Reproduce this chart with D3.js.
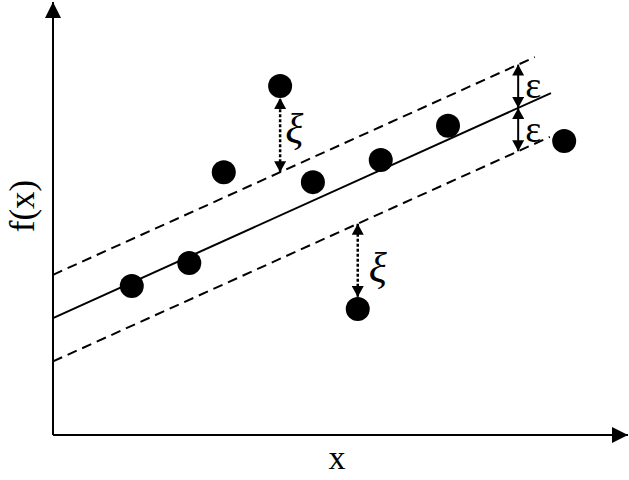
<!DOCTYPE html>
<html>
<head>
<meta charset="utf-8">
<script src="https://cdn.jsdelivr.net/npm/d3@7"></script>
<style>
  html, body { margin: 0; padding: 0; background: #fff; }
  svg { display: block; }
  text { font-family: "Liberation Serif", "Times New Roman", serif; fill: #000; }
</style>
</head>
<body>
<div id="chart"></div>
<script>
// sample points (data units)
const pointX = [1.37, 2.37, 2.97, 3.95, 4.52, 5.70, 6.87, 5.30, 8.89];
const pointY = [3.44, 3.97, 6.07, 8.06, 5.84, 6.35, 7.14, 2.91, 6.79];

// regression line f(x) = intercept + slope * x, tube of half width epsilon
const intercept = 2.7;
const slope = 0.6;
const epsilon = 1.0;
const lineEnds = { center: 8.66, upper: 8.38, lower: 8.64 };

// where the epsilon marker sits and which points get a slack arrow
const epsilonAt = 8.09;
const slackPoints = [3, 7];

const svgWidth = 629;
const svgHeight = 480;
const radius = 12;

const svg = d3.select('#chart')
    .append('svg')
    .attr('width', svgWidth)
    .attr('height', svgHeight);

const x = d3.scaleLinear().domain([0, 10]).range([53, 628]);
const y = d3.scaleLinear().domain([0, 10]).range([435, 2]);

const f = v => intercept + slope * v;

//arrow heads
const defs = svg.append('defs');
defs.append('marker')
    .attr('id', 'big-arrow')
    .attr('markerUnits', 'userSpaceOnUse')
    .attr('markerWidth', 18).attr('markerHeight', 18)
    .attr('refX', 16).attr('refY', 8)
    .attr('orient', 'auto')
    .append('path')
    .attr('d', 'M0,0 L16,8 L0,16 Z')
    .style('fill', '#000');

defs.append('marker')
    .attr('id', 'small-arrow')
    .attr('markerUnits', 'userSpaceOnUse')
    .attr('markerWidth', 12).attr('markerHeight', 12)
    .attr('refX', 11).attr('refY', 6)
    .attr('orient', 'auto-start-reverse')
    .append('path')
    .attr('d', 'M0,0 L11,6 L0,12 Z')
    .style('fill', '#000');

//axes
svg.append('line')
    .attr('x1', x(0)).attr('y1', y(0))
    .attr('x2', x(10)).attr('y2', y(0))
    .style('stroke', '#000').style('stroke-width', 2)
    .attr('marker-end', 'url(#big-arrow)');

svg.append('line')
    .attr('x1', x(0)).attr('y1', y(0))
    .attr('x2', x(0)).attr('y2', y(10))
    .style('stroke', '#000').style('stroke-width', 2)
    .attr('marker-end', 'url(#big-arrow)');

svg.append('text')
    .attr('x', 337).attr('y', 469)
    .style('font-size', '34px')
    .style('text-anchor', 'middle')
    .text('x');

svg.append('text')
    .attr('transform', 'translate(34, 206) rotate(-90)')
    .style('font-size', '35px')
    .style('text-anchor', 'middle')
    .text('f(x)');

//regression line and epsilon tube
const tube = [
    { offset: 0, end: lineEnds.center, dash: null },
    { offset: epsilon, end: lineEnds.upper, dash: '10,6' },
    { offset: -epsilon, end: lineEnds.lower, dash: '10,6' }
];

svg.selectAll('.tube')
    .data(tube).enter()
    .append('line')
    .attr('class', 'tube')
    .attr('x1', x(0))
    .attr('y1', d => y(f(0) + d.offset))
    .attr('x2', d => x(d.end))
    .attr('y2', d => y(f(d.end) + d.offset))
    .style('stroke', '#000')
    .style('stroke-width', 2)
    .style('stroke-dasharray', d => d.dash);

//points
svg.selectAll('.point')
    .data(pointX.map((v, i) => ({ x: v, y: pointY[i] }))).enter()
    .append('circle')
    .attr('class', 'point')
    .attr('cx', d => x(d.x))
    .attr('cy', d => y(d.y))
    .attr('r', radius)
    .style('fill', '#000');

//epsilon arrows
const epsSegments = [
    { from: f(epsilonAt) + epsilon, to: f(epsilonAt) },
    { from: f(epsilonAt), to: f(epsilonAt) - epsilon }
];

svg.selectAll('.eps')
    .data(epsSegments).enter()
    .append('line')
    .attr('class', 'eps')
    .attr('x1', x(epsilonAt)).attr('y1', d => y(d.from))
    .attr('x2', x(epsilonAt)).attr('y2', d => y(d.to))
    .style('stroke', '#000').style('stroke-width', 2)
    .attr('marker-start', 'url(#small-arrow)')
    .attr('marker-end', 'url(#small-arrow)');

svg.selectAll('.eps-label')
    .data(epsSegments).enter()
    .append('text')
    .attr('class', 'eps-label')
    .attr('x', x(epsilonAt) + 15)
    .attr('y', d => (y(d.from) + y(d.to)) / 2 - 1)
    .attr('dominant-baseline', 'central')
    .style('font-size', '38px')
    .style('text-anchor', 'middle')
    .text('ε');

//slack arrows (xi)
const slack = slackPoints.map(i => {
    const px = pointX[i], py = pointY[i];
    const above = py > f(px);
    const edge = f(px) + (above ? epsilon : -epsilon);
    return { x: px, edge: edge, point: py, above: above };
});

svg.selectAll('.xi')
    .data(slack).enter()
    .append('line')
    .attr('class', 'xi')
    .attr('x1', d => x(d.x))
    .attr('y1', d => y(d.edge))
    .attr('x2', d => x(d.x))
    .attr('y2', d => y(d.point) + (d.above ? radius : -radius))
    .style('stroke', '#000').style('stroke-width', 2.5)
    .style('stroke-dasharray', '3,2')
    .attr('marker-start', 'url(#small-arrow)')
    .attr('marker-end', 'url(#small-arrow)');

svg.selectAll('.xi-label')
    .data(slack).enter()
    .append('text')
    .attr('class', 'xi-label')
    .attr('x', d => x(d.x) + (d.above ? 14 : 20))
    .attr('y', d => (y(d.edge) + y(d.point)) / 2 + (d.above ? 0 : 2))
    .attr('dominant-baseline', 'central')
    .style('font-size', '42px')
    .style('font-style', 'italic')
    .style('text-anchor', 'middle')
    .text('ξ');
</script>
</body>
</html>
